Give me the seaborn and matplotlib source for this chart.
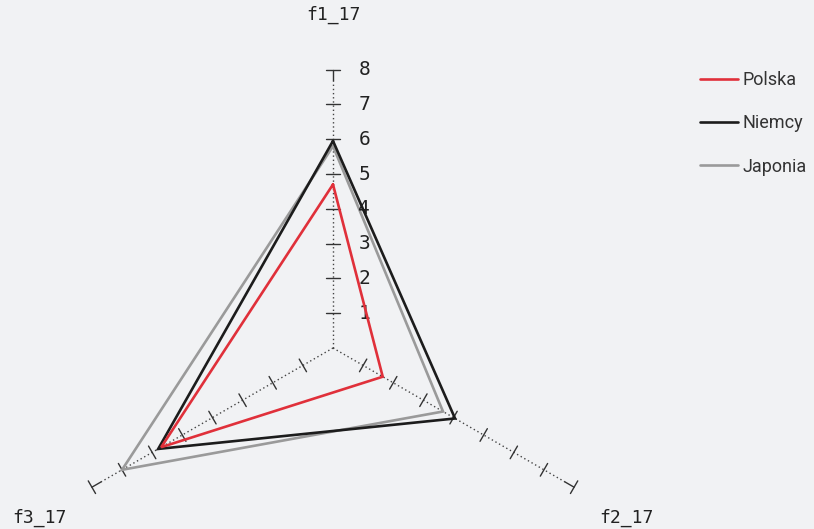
import numpy as np
import pandas as pd
import matplotlib.pyplot as plt
import seaborn as sns

axes_names = ["f1_17", "f2_17", "f3_17"]
countries = ["Polska", "Niemcy", "Japonia"]
polska = [4.7, 1.65, 5.7]
niemcy = [5.95, 4.05, 5.8]
japonia = [5.8, 3.65, 7.0]
ticks = [1, 2, 3, 4, 5, 6, 7, 8]

colors = {"Polska": "#e0303a", "Niemcy": "#1c1c1c", "Japonia": "#9a9a9a"}
bg = "#f1f2f4"

# angle of each spoke (degrees, counterclockwise from +x)
angles = np.deg2rad([90, -30, 210])

rows = []
for name, vals in zip(countries, [polska, niemcy, japonia]):
    for i, k in enumerate(list(range(3)) + [0]):
        rows.append({"country": name, "order": i,
                     "x": vals[k] * np.cos(angles[k]),
                     "y": vals[k] * np.sin(angles[k])})
df = pd.DataFrame(rows)

sns.set_style("white")
fig = plt.figure(figsize=(8.14, 5.29), dpi=100, facecolor=bg)
ax = fig.add_axes([0, 0, 1, 1])
ax.set_facecolor(bg)
u = 34.8  # pixels per value unit
ax.set_xlim(-333 / u, (814 - 333) / u)
ax.set_ylim(-181 / u, 348 / u)
ax.set_axis_off()

# spokes, tick marks
for a in angles:
    d = np.array([np.cos(a), np.sin(a)])
    p = np.array([-np.sin(a), np.cos(a)])
    ax.plot([0, 7.7 * d[0]], [0, 7.7 * d[1]], color="#444444", lw=1, ls=(0, (1, 2)), zorder=0)
    ax.plot([7.7 * d[0], 8 * d[0]], [7.7 * d[1], 8 * d[1]], color="#333333", lw=1, zorder=0)
    for t in ticks:
        c = t * d
        ax.plot([c[0] - 0.21 * p[0], c[0] + 0.21 * p[0]],
                [c[1] - 0.21 * p[1], c[1] + 0.21 * p[1]], color="#333333", lw=1, zorder=0)

# tick numbers on the top spoke
for t in ticks:
    ax.text(0.9, t, str(t), ha="center", va="center", fontsize=14,
            family="DejaVu Sans Mono", color="#222222")

# spoke labels
for name, a in zip(axes_names, angles):
    r = 9.57 if name == "f1_17" else 9.75
    ax.text(r * np.cos(a), r * np.sin(a), name, ha="center", va="center",
            fontsize=13, family="DejaVu Sans Mono", color="#222222")

for i, name in enumerate(reversed(countries)):
    sns.lineplot(data=df[df.country == name], x="x", y="y", sort=False,
                 estimator=None, color=colors[name], lw=1.9, label=name,
                 solid_joinstyle="miter", ax=ax, zorder=2 + i)

handles, labels = ax.get_legend_handles_labels()
order = [labels.index(c) for c in countries]
ax.legend([handles[i] for i in order], countries, loc="upper left",
          bbox_to_anchor=(700 / 814, 1 - 71 / 529), bbox_transform=fig.transFigure,
          frameon=False, borderpad=0, borderaxespad=0, handlelength=2.1,
          handletextpad=0.25, labelspacing=1.4,
          prop={"family": "Roboto", "size": 13})
for txt in ax.get_legend().get_texts():
    txt.set_color("#333333")

fig.savefig("out.png", dpi=100, facecolor=bg)
